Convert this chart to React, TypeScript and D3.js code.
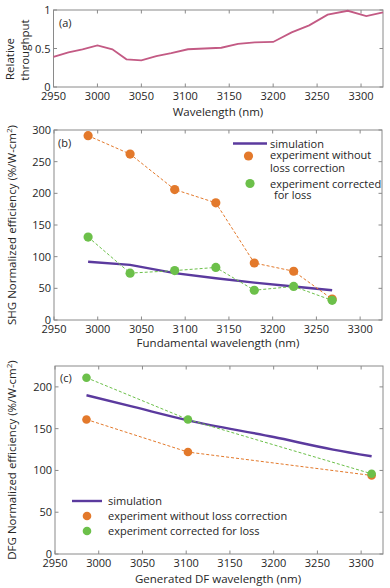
import React from 'react';
import * as d3 from 'd3';

// panel (a): relative throughput
const wlA = [2950, 2967, 2983, 3000, 3017, 3033, 3050, 3067, 3084, 3103, 3122, 3141, 3160, 3179, 3200, 3221, 3241, 3262, 3285, 3306, 3325];
const thrA = [0.39, 0.45, 0.49, 0.54, 0.49, 0.36, 0.345, 0.4, 0.44, 0.49, 0.5, 0.51, 0.56, 0.58, 0.585, 0.71, 0.8, 0.94, 0.99, 0.92, 0.97];

// panel (b): SHG
const wlB = [2989, 3037, 3088, 3135, 3179, 3224, 3268];
const simB = [92, 87, 74, 66, 59, 53, 47];
const rawB = [291, 262, 206, 185, 90, 77, 33];
const corB = [131, 74, 78, 83, 47, 53, 31];

// panel (c): DFG
const wlC = [2986, 3102, 3312];
const simWlC = [2986, 3040, 3102, 3200, 3268, 3312];
const simC = [190, 176, 160, 140, 125, 117];
const rawC = [161, 122, 94];
const corC = [211, 161, 96];

const xTicks = [2950, 3000, 3050, 3100, 3150, 3200, 3250, 3300];
const yTicksA = [0, 0.5, 1];
const yTicksB = [0, 50, 100, 150, 200, 250, 300];
const yTicksC = [0, 50, 100, 150, 200];

const FONT = '"Open Sans", sans-serif';
const AXIS = '#8a8a8a';
const TXT = '#262626';
const PINK = '#c35a84';
const PURPLE = '#5b3a9e';
const ORANGE = '#e3792b';
const GREEN = '#6cc04a';

type Box = { l: number; r: number; t: number; b: number };

function Frame({ box, x, y, yt, yfmt }: { box: Box; x: any; y: any; yt: number[]; yfmt: (v: number) => string }) {
  const tl = 3.5;
  return (
    <g>
      <rect x={box.l} y={box.t} width={box.r - box.l} height={box.b - box.t} fill="none" stroke={AXIS} strokeWidth={1} />
      {xTicks.map(v => (
        <g key={'x' + v}>
          <line x1={x(v)} x2={x(v)} y1={box.b} y2={box.b - tl} stroke={AXIS} />
          <line x1={x(v)} x2={x(v)} y1={box.t} y2={box.t + tl} stroke={AXIS} />
          <text x={x(v)} y={box.b + 13} textAnchor="middle" fontSize={11} fill={TXT}>{v}</text>
        </g>
      ))}
      {yt.map(v => (
        <g key={'y' + v}>
          <line x1={box.l} x2={box.l + tl} y1={y(v)} y2={y(v)} stroke={AXIS} />
          <line x1={box.r} x2={box.r - tl} y1={y(v)} y2={y(v)} stroke={AXIS} />
          <text x={box.l - 3} y={y(v) + 4} textAnchor="end" fontSize={11} fill={TXT}>{yfmt(v)}</text>
        </g>
      ))}
    </g>
  );
}

export default function App() {
  const boxA: Box = { l: 53.5, r: 383, t: 10, b: 87 };
  const boxB: Box = { l: 54, r: 382, t: 130, b: 320 };
  const boxC: Box = { l: 55, r: 383, t: 366, b: 554 };

  const xA = d3.scaleLinear().domain([2950, 3325]).range([boxA.l, boxA.r]);
  const yA = d3.scaleLinear().domain([0, 1]).range([boxA.b, boxA.t]);
  const xB = d3.scaleLinear().domain([2950, 3325]).range([boxB.l, boxB.r]);
  const yB = d3.scaleLinear().domain([0, 300]).range([boxB.b, boxB.t]);
  const xC = d3.scaleLinear().domain([2950, 3325]).range([boxC.l, boxC.r]);
  const yC = d3.scaleLinear().domain([0, 225]).range([boxC.b, boxC.t]);

  const lineA = d3.line<number>().x((_, i) => xA(wlA[i])).y(d => yA(d));
  const lineB = (ws: number[]) => d3.line<number>().x((_, i) => xB(ws[i])).y(d => yB(d));
  const lineC = (ws: number[]) => d3.line<number>().x((_, i) => xC(ws[i])).y(d => yC(d));
  const simLineC = d3.line<number>().x((_, i) => xC(simWlC[i])).y(d => yC(d)).curve(d3.curveMonotoneX);

  return (
    <svg width={390} height={588} style={{ position: 'absolute', left: 0, top: 0, fontFamily: FONT }}>
      <rect width={390} height={588} fill="#fff" />

      {/* (a) */}
      <Frame box={boxA} x={xA} y={yA} yt={yTicksA} yfmt={v => String(v)} />
      <path d={lineA(thrA) || ''} fill="none" stroke={PINK} strokeWidth={1.8} />
      <text x={59} y={27} fontSize={11} fill={TXT}>(a)</text>
      <text transform="translate(14,59) rotate(-90)" textAnchor="middle" fontSize={11.5} fill={TXT}>Relative</text>
      <text transform="translate(29,50) rotate(-90)" textAnchor="middle" fontSize={11.5} fill={TXT}>throughput</text>
      <text x={218} y={116} textAnchor="middle" fontSize={11.5} fill={TXT}>Wavelength (nm)</text>

      {/* (b) */}
      <Frame box={boxB} x={xB} y={yB} yt={yTicksB} yfmt={v => String(v)} />
      <path d={lineB(wlB)(simB) || ''} fill="none" stroke={PURPLE} strokeWidth={2.4} />
      <path d={lineB(wlB)(rawB) || ''} fill="none" stroke={ORANGE} strokeWidth={1} strokeDasharray="3,2" />
      {rawB.map((v, i) => <circle key={'ob' + i} cx={xB(wlB[i])} cy={yB(v)} r={4.6} fill={ORANGE} />)}
      <path d={lineB(wlB)(corB) || ''} fill="none" stroke={GREEN} strokeWidth={1} strokeDasharray="3,2" />
      {corB.map((v, i) => <circle key={'gb' + i} cx={xB(wlB[i])} cy={yB(v)} r={4.6} fill={GREEN} />)}
      <text x={58} y={147} fontSize={11} fill={TXT}>(b)</text>
      <line x1={233} x2={267} y1={143.5} y2={143.5} stroke={PURPLE} strokeWidth={2.4} />
      <text x={270} y={147.5} fontSize={11} fill={TXT}>simulation</text>
      <circle cx={248.5} cy={156} r={4.6} fill={ORANGE} />
      <text x={270} y={159} fontSize={11} fill={TXT}>experiment without</text>
      <text x={270} y={172} fontSize={11} fill={TXT}>loss correction</text>
      <circle cx={250} cy={183.5} r={4.6} fill={GREEN} />
      <text x={270} y={187.5} fontSize={11} fill={TXT}>experiment corrected</text>
      <text x={274} y={199} fontSize={11} fill={TXT}>for loss</text>
      <text transform="translate(16,225) rotate(-90)" textAnchor="middle" fontSize={11.5} fill={TXT}>
        SHG Normalized efficiency (%/W-cm<tspan dy={-4} fontSize={8}>2</tspan><tspan dy={4}>)</tspan>
      </text>
      <text x={218} y={347} textAnchor="middle" fontSize={11.5} fill={TXT}>Fundamental wavelength (nm)</text>

      {/* (c) */}
      <Frame box={boxC} x={xC} y={yC} yt={yTicksC} yfmt={v => String(v)} />
      <path d={simLineC(simC) || ''} fill="none" stroke={PURPLE} strokeWidth={2.4} />
      <path d={lineC(wlC)(rawC) || ''} fill="none" stroke={ORANGE} strokeWidth={1} strokeDasharray="3,2" />
      {rawC.map((v, i) => <circle key={'oc' + i} cx={xC(wlC[i])} cy={yC(v)} r={4.3} fill={ORANGE} />)}
      <path d={lineC(wlC)(corC) || ''} fill="none" stroke={GREEN} strokeWidth={1} strokeDasharray="3,2" />
      {corC.map((v, i) => <circle key={'gc' + i} cx={xC(wlC[i])} cy={yC(v)} r={4.3} fill={GREEN} />)}
      <text x={60} y={382} fontSize={11} fill={TXT}>(c)</text>
      <line x1={72} x2={102} y1={501} y2={501} stroke={PURPLE} strokeWidth={2.4} />
      <text x={108} y={505} fontSize={11} fill={TXT}>simulation</text>
      <circle cx={87} cy={516} r={4.3} fill={ORANGE} />
      <text x={108} y={520} fontSize={11} fill={TXT}>experiment without loss correction</text>
      <circle cx={87} cy={531} r={4.3} fill={GREEN} />
      <text x={108} y={535} fontSize={11} fill={TXT}>experiment corrected for loss</text>
      <text transform="translate(16,460) rotate(-90)" textAnchor="middle" fontSize={11.5} fill={TXT}>
        DFG Normalized efficiency (%/W-cm<tspan dy={-4} fontSize={8}>2</tspan><tspan dy={4}>)</tspan>
      </text>
      <text x={218} y={583} textAnchor="middle" fontSize={11.5} fill={TXT}>Generated DF wavelength (nm)</text>
    </svg>
  );
}
